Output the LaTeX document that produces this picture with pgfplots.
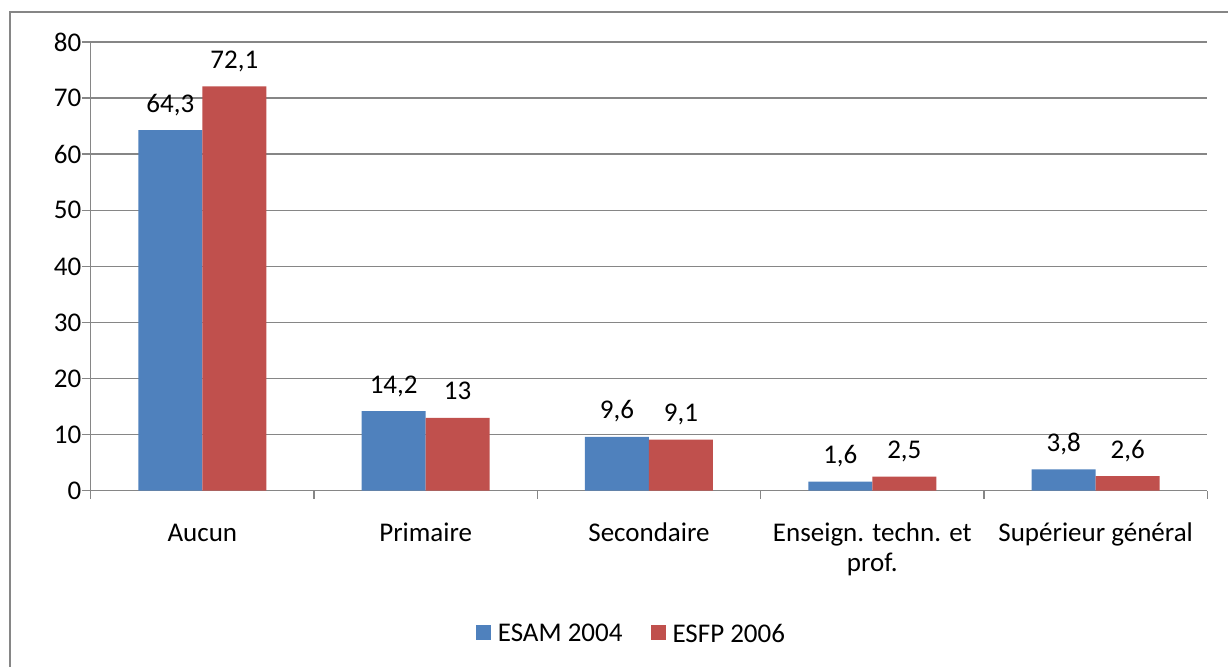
\documentclass[border=0pt]{standalone}
\usepackage{pgfplots}
\pgfplotsset{compat=1.18}
\usepackage{fontspec}
\setmainfont{Carlito}
\definecolor{cblue}{RGB}{79,129,189}
\definecolor{cred}{RGB}{192,80,77}
\definecolor{cgrid}{RGB}{134,134,134}
\newcommand{\lab}{\fontsize{13.5}{15}\selectfont}
\begin{document}
\begin{tikzpicture}[x=1pt,y=1pt]
\path[use as bounding box] (0,0) rectangle (614,333);
\draw[cgrid, line width=1pt] (5,-2) -- (5,327) -- (616,327);
\begin{axis}[
  at={(45.35pt,87.65pt)}, anchor=south west,
  scale only axis, width=558.3pt, height=224.35pt,
  ybar=0pt, bar width=32pt,
  xmin=-0.5, xmax=4.5, ymin=0, ymax=80,
  ytick={0,10,...,80},
  xtick={0,...,4},
  xticklabels={Aucun,Primaire,Secondaire,{\begin{tabular}[t]{@{}c@{}}Enseign. techn. et\\prof.\end{tabular}},Supérieur général},
  minor xtick={-0.5,0.5,...,4.5},
  axis lines*=left,
  axis line style={cgrid, line width=0.75pt},
  ymajorgrids, grid style={cgrid, line width=0.75pt},
  tick align=outside,
  major tick length=4.5pt, minor tick length=4pt,
  every major x tick/.append style={draw=none},
  tick style={cgrid, line width=0.75pt},
  ticklabel style={font=\lab, text=black},
  xticklabel style={anchor=base, inner sep=0pt, yshift=-21pt},
  yticklabel style={anchor=east, inner sep=0pt},
  nodes near coords,
  every node near coord/.append style={font=\lab, text=black, anchor=base, inner sep=0pt, yshift=9pt},
  legend style={at={(0.4834,-0.3205)}, anchor=center, draw=none, legend columns=2, font=\lab,
    nodes={inner sep=0pt},
    /tikz/every odd column/.append style={column sep=3.5pt},
    /tikz/every even column/.append style={column sep=14pt}},
  legend image code/.code={\fill[#1] (0pt,-2.5pt) rectangle (7.5pt,5pt);},
  /pgf/number format/use comma,
  /pgf/number format/assume math mode=true,
]
\addplot[fill=cblue, draw=none] coordinates {(0,64.3) (1,14.2) (2,9.6) (3,1.6) (4,3.8)};
\addplot[fill=cred, draw=none] coordinates {(0,72.1) (1,13) (2,9.1) (3,2.5) (4,2.6)};
\legend{ESAM 2004, ESFP 2006}
\end{axis}
\end{tikzpicture}
\end{document}
